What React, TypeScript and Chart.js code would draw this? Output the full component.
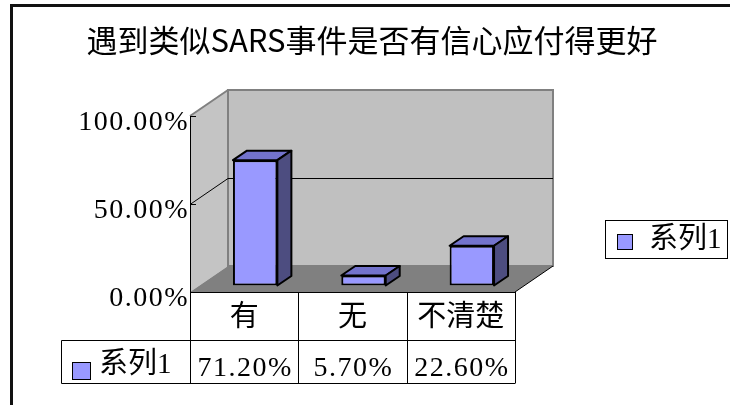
import React, { useEffect, useRef } from 'react';
import { Chart, registerables } from 'chart.js';

Chart.register(...registerables);

// ---- data ----
const chartTitle = '遇到类似SARS事件是否有信心应付得更好';
const categories = ['有', '无', '不清楚'];
const seriesName = '系列1';
const values = [71.2, 5.7, 22.6];
const valueLabels = ['71.20%', '5.70%', '22.60%'];
const yTicks = [0, 50, 100];
const yTickLabels = ['0.00%', '50.00%', '100.00%'];

// ---- 3D geometry (pixels) ----
const DEPTH_X = 38;
const DEPTH_Y = 26;
const FRONT_DX = 11;
const FRONT_DY = 6.5;
const BAR_DX = 14;
const BAR_DY = 9.5;

const NUM_FONT = "28px 'Liberation Serif', 'Noto Sans CJK SC'";
const CJK_FONT = "29px 'Liberation Serif', 'Noto Sans CJK SC'";

function poly(ctx: CanvasRenderingContext2D, pts: number[][]) {
  ctx.beginPath();
  ctx.moveTo(pts[0][0], pts[0][1]);
  for (let i = 1; i < pts.length; i++) ctx.lineTo(pts[i][0], pts[i][1]);
  ctx.closePath();
}

function line(ctx: CanvasRenderingContext2D, x1: number, y1: number, x2: number, y2: number) {
  ctx.beginPath();
  ctx.moveTo(x1, y1);
  ctx.lineTo(x2, y2);
  ctx.stroke();
}

const threeD = {
  id: 'threeD',
  beforeDatasetsDraw(chart: any) {
    const ctx: CanvasRenderingContext2D = chart.ctx;
    const ys = chart.scales.y;
    const ca = chart.chartArea;
    const fl = ca.left - FRONT_DX;
    const fr = ca.right - FRONT_DX;
    const f = (v: number) => ys.getPixelForValue(v) + FRONT_DY;
    const f0 = f(0);
    const f100 = f(yTicks[yTicks.length - 1]);
    ctx.save();
    // back wall
    ctx.fillStyle = '#C0C0C0';
    ctx.fillRect(fl + DEPTH_X, f100 - DEPTH_Y, fr - fl, f0 - f100);
    // side wall
    ctx.fillStyle = '#C4C4C4';
    poly(ctx, [[fl, f100], [fl + DEPTH_X, f100 - DEPTH_Y], [fl + DEPTH_X, f0 - DEPTH_Y], [fl, f0]]);
    ctx.fill();
    // floor
    ctx.fillStyle = '#808080';
    poly(ctx, [[fl, f0], [fl + DEPTH_X, f0 - DEPTH_Y], [fr + DEPTH_X, f0 - DEPTH_Y], [fr, f0]]);
    ctx.fill();
    // wall borders
    ctx.strokeStyle = '#808080';
    ctx.lineWidth = 2;
    ctx.strokeRect(fl + DEPTH_X, f100 - DEPTH_Y, fr - fl, f0 - f100);
    line(ctx, fl, f100, fl + DEPTH_X, f100 - DEPTH_Y);
    // gridlines
    ctx.strokeStyle = '#000';
    ctx.lineWidth = 1;
    yTicks.forEach((v) => {
      if (v === 0 || v === yTicks[yTicks.length - 1]) return;
      const y = Math.round(f(v)) + 0.5;
      ctx.beginPath();
      ctx.moveTo(fl, y);
      ctx.lineTo(fl + DEPTH_X, y - DEPTH_Y);
      ctx.lineTo(fr + DEPTH_X, y - DEPTH_Y);
      ctx.stroke();
    });
    // floor edges
    line(ctx, fl, f0 + 0.5, fr, f0 + 0.5);
    line(ctx, fr, f0, fr + DEPTH_X, f0 - DEPTH_Y);
    // axis line + ticks
    line(ctx, fl + 0.5, f100, fl + 0.5, f0);
    yTicks.forEach((v) => {
      const y = Math.round(f(v)) + 0.5;
      line(ctx, fl, y, fl + 6, y);
    });
    // tick labels
    ctx.fillStyle = '#000';
    ctx.font = NUM_FONT;
    (ctx as any).letterSpacing = '1.5px';
    ctx.textAlign = 'right';
    ctx.textBaseline = 'alphabetic';
    yTicks.forEach((v, i) => {
      ctx.fillText(yTickLabels[i], fl - 1, f(v) + 14);
    });
    (ctx as any).letterSpacing = '0px';
    ctx.restore();
  },
  afterDatasetsDraw(chart: any) {
    const ctx: CanvasRenderingContext2D = chart.ctx;
    const meta = chart.getDatasetMeta(0);
    ctx.save();
    ctx.strokeStyle = '#000';
    ctx.lineWidth = 2;
    ctx.lineJoin = 'round';
    meta.data.forEach((bar: any) => {
      const p = bar.getProps(['x', 'y', 'base', 'width'], true);
      const l = p.x - p.width / 2;
      const r = p.x + p.width / 2;
      ctx.fillStyle = '#7373CC';
      poly(ctx, [[l, p.y], [l + BAR_DX, p.y - BAR_DY], [r + BAR_DX, p.y - BAR_DY], [r, p.y]]);
      ctx.fill();
      ctx.stroke();
      ctx.fillStyle = '#4D4D80';
      poly(ctx, [[r, p.y], [r + BAR_DX, p.y - BAR_DY], [r + BAR_DX, p.base - BAR_DY], [r, p.base]]);
      ctx.fill();
      ctx.stroke();
    });
    ctx.restore();
  },
  afterDraw(chart: any) {
    const ctx: CanvasRenderingContext2D = chart.ctx;
    const ys = chart.scales.y;
    const xs = chart.scales.x;
    const ca = chart.chartArea;
    const fl = ca.left - FRONT_DX;
    const fr = ca.right - FRONT_DX;
    const f0 = ys.getPixelForValue(0) + FRONT_DY;
    const catW = (fr - fl) / categories.length;
    const row1Bottom = 340.5;
    const row2Bottom = 383.5;
    const tableLeft = 61.5;
    ctx.save();
    // outer border
    ctx.strokeStyle = '#111';
    ctx.lineWidth = 3;
    ctx.beginPath();
    ctx.moveTo(11.5, 405);
    ctx.lineTo(11.5, 5.5);
    ctx.lineTo(730, 5.5);
    ctx.stroke();
    // title
    ctx.fillStyle = '#000';
    ctx.font = "31px 'Noto Sans CJK SC'";
    ctx.textAlign = 'center';
    ctx.textBaseline = 'middle';
    ctx.fillText(chartTitle, 372, 40);
    // data table
    ctx.strokeStyle = '#000';
    ctx.lineWidth = 1;
    for (let i = 0; i <= categories.length; i++) {
      const x = Math.round(fl + i * catW) + 0.5;
      line(ctx, x, f0, x, row2Bottom);
    }
    line(ctx, tableLeft, row1Bottom, fr, row1Bottom);
    line(ctx, tableLeft, row2Bottom, fr, row2Bottom);
    line(ctx, tableLeft, row1Bottom, tableLeft, row2Bottom);
    ctx.font = CJK_FONT;
    ctx.textAlign = 'center';
    ctx.textBaseline = 'middle';
    categories.forEach((c, i) => {
      const cx = xs.getPixelForValue(i) - FRONT_DX;
      ctx.fillText(c, cx, 318);
    });
    ctx.font = NUM_FONT;
    (ctx as any).letterSpacing = '1.5px';
    ctx.textBaseline = 'alphabetic';
    valueLabels.forEach((t, i) => {
      const cx = xs.getPixelForValue(i) - FRONT_DX;
      ctx.fillText(t, cx + 1, 376);
    });
    (ctx as any).letterSpacing = '0px';
    // table legend key
    ctx.fillStyle = '#9999FF';
    ctx.fillRect(72, 362, 18, 17);
    ctx.strokeRect(72.5, 362.5, 18, 17);
    ctx.fillStyle = '#000';
    ctx.font = CJK_FONT;
    ctx.textAlign = 'left';
    ctx.textBaseline = 'middle';
    ctx.fillText(seriesName, 99, 365);
    // right legend
    ctx.strokeRect(605.5, 220.5, 122, 38);
    ctx.fillStyle = '#9999FF';
    ctx.fillRect(617, 234, 15, 15);
    ctx.strokeRect(617.5, 234.5, 15, 15);
    ctx.fillStyle = '#000';
    ctx.fillText(seriesName, 649, 240);
    ctx.restore();
  },
};

export default function App() {
  const ref = useRef<HTMLCanvasElement>(null);
  useEffect(() => {
    if (!ref.current) return;
    const chart = new Chart(ref.current, {
      type: 'bar',
      data: {
        labels: categories,
        datasets: [
          {
            label: seriesName,
            data: values,
            backgroundColor: '#9999FF',
            borderColor: '#000',
            borderWidth: 2,
            borderSkipped: false,
            barPercentage: 0.41,
            categoryPercentage: 1,
          },
        ],
      },
      options: {
        animation: false,
        responsive: false,
        devicePixelRatio: 1,
        events: [],
        layout: { padding: { left: 201, right: 204, top: 109.5, bottom: 119.5 } },
        scales: {
          x: { display: false },
          y: { display: false, min: 0, max: 100 },
        },
        plugins: {
          legend: { display: false },
          title: { display: false },
          tooltip: { enabled: false },
        },
      },
      plugins: [threeD],
    });
    return () => chart.destroy();
  }, []);
  return (
    <div style={{ position: 'absolute', left: 0, top: 0, width: 730, height: 405, background: '#fff' }}>
      <canvas ref={ref} width={730} height={405} />
    </div>
  );
}
